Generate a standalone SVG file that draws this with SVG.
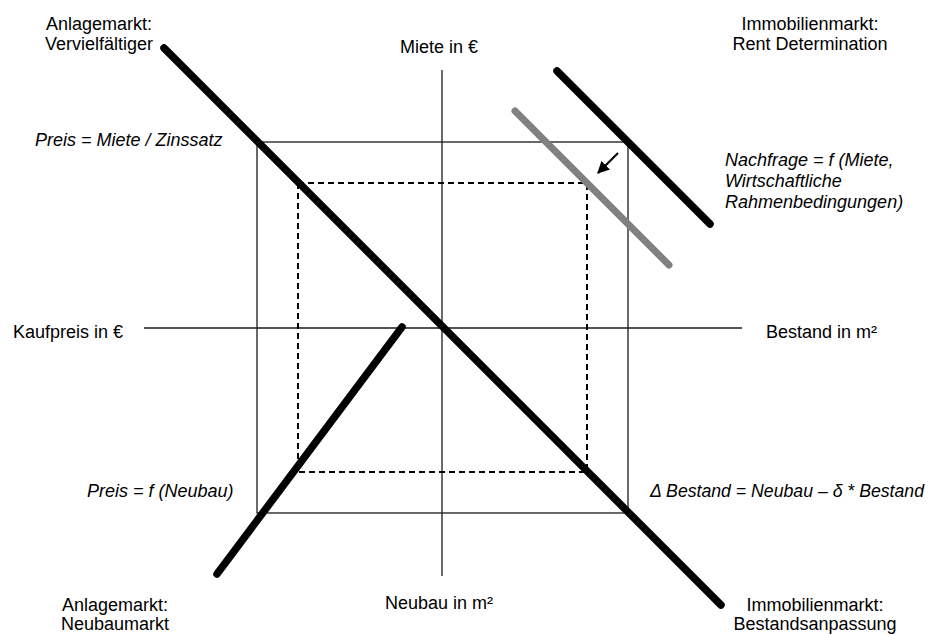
<svg xmlns="http://www.w3.org/2000/svg" width="937" height="635" viewBox="0 0 937 635">
  <style>
    text { font-family: "Liberation Sans", Arial, sans-serif; font-size: 18px; fill: #000; }
    .c { text-anchor: middle; }
    .i { font-style: italic; }
    .thin { stroke: #1a1a1a; stroke-width: 1.3; fill: none; }
    .dash { stroke: #000; stroke-width: 2; fill: none; stroke-dasharray: 6 4; }
    .curve { stroke: #000; stroke-width: 7.5; stroke-linecap: round; fill: none; }
    .shifted { stroke: #808080; stroke-width: 7; stroke-linecap: round; fill: none; }
  </style>
  <defs>
    <marker id="head" viewBox="0 0 10 10" refX="9" refY="5" markerWidth="5.5" markerHeight="5.5" orient="auto" markerUnits="strokeWidth">
      <path d="M0,0 L10,5 L0,10 z" fill="#000"/>
    </marker>
  </defs>
  <rect width="937" height="635" fill="#fff"/>

  <!-- axes -->
  <g id="axes">
    <line class="thin" x1="442" y1="70" x2="442" y2="576"/>
    <line class="thin" x1="144" y1="328" x2="742" y2="328"/>
  </g>

  <!-- equilibrium squares -->
  <g id="squares">
    <rect class="thin" x="257" y="142" width="371" height="371"/>
    <rect class="dash" x="298" y="183" width="289" height="289"/>
  </g>

  <!-- market curves -->
  <g id="connectors">
    <line id="multiplier" class="curve" x1="164" y1="48" x2="721" y2="605"/>
    <line id="demand" class="curve" x1="557" y1="71" x2="710" y2="224"/>
    <line id="demand-shifted" class="shifted" x1="515" y1="111" x2="669" y2="265"/>
    <line id="construction" class="curve" x1="402" y1="327" x2="217" y2="574"/>
    <line id="shift" stroke="#000" stroke-width="2.2" x1="618" y1="153" x2="598" y2="173" marker-end="url(#head)"/>
  </g>

  <!-- quadrant titles -->
  <g id="title-tl">
    <text class="c" x="99" y="30">Anlagemarkt:</text>
    <text class="c" x="99" y="50">Vervielfältiger</text>
  </g>
  <g id="title-tr">
    <text class="c" x="810" y="30">Immobilienmarkt:</text>
    <text class="c" x="810" y="50">Rent Determination</text>
  </g>
  <g id="title-bl">
    <text class="c" x="115" y="611">Anlagemarkt:</text>
    <text class="c" x="115" y="630">Neubaumarkt</text>
  </g>
  <g id="title-br">
    <text class="c" x="815" y="611">Immobilienmarkt:</text>
    <text class="c" x="815" y="630">Bestandsanpassung</text>
  </g>

  <!-- axis labels -->
  <g id="axis-labels">
    <text class="c" x="439" y="53">Miete in €</text>
    <text x="13" y="338">Kaufpreis in €</text>
    <text x="766" y="338">Bestand in m²</text>
    <text class="c" x="439" y="609">Neubau in m²</text>
  </g>

  <!-- equations -->
  <g id="equations">
    <text class="i" x="35" y="146">Preis = Miete / Zinssatz</text>
    <text class="i" x="725" y="166">Nachfrage = f (Miete,</text>
    <text class="i" x="725" y="187">Wirtschaftliche</text>
    <text class="i" x="725" y="208">Rahmenbedingungen)</text>
    <text class="i" x="87" y="497">Preis = f (Neubau)</text>
    <text class="i" x="650" y="497" font-size="16.5" textLength="274" lengthAdjust="spacingAndGlyphs">Δ Bestand = Neubau – δ * Bestand</text>
  </g>
</svg>
